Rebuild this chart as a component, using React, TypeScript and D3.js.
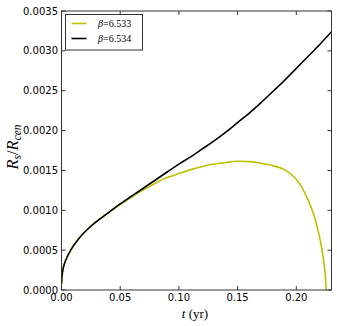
import React from "react";
import * as d3 from "d3";

const tBlack = [0, 0.001, 0.0025, 0.005, 0.0075, 0.01, 0.015, 0.02, 0.025, 0.03, 0.04, 0.05, 0.06, 0.07, 0.08, 0.09, 0.10, 0.11, 0.12, 0.13, 0.14, 0.15, 0.16, 0.17, 0.18, 0.19, 0.20, 0.21, 0.22, 0.23];
const vBlack = [0.00008, 0.00024, 0.00033, 0.00042, 0.00049, 0.00055, 0.00065, 0.00073, 0.0008, 0.00086, 0.00097, 0.00108, 0.00118, 0.00128, 0.00138, 0.00148, 0.00158, 0.00167, 0.00177, 0.00187, 0.00198, 0.0021, 0.00222, 0.00235, 0.00249, 0.00263, 0.00278, 0.00293, 0.00308, 0.00324];

const tYellow = [0, 0.001, 0.0025, 0.005, 0.0075, 0.01, 0.015, 0.02, 0.025, 0.03, 0.04, 0.05, 0.06, 0.07, 0.08, 0.09, 0.10, 0.11, 0.12, 0.13, 0.14, 0.15, 0.16, 0.17, 0.18, 0.19, 0.20, 0.205, 0.21, 0.215, 0.218, 0.221, 0.223, 0.2245, 0.2255];
const vYellow = [0.00008, 0.00024, 0.00033, 0.00042, 0.00049, 0.00055, 0.00065, 0.00073, 0.0008, 0.00086, 0.00097, 0.00107, 0.00117, 0.00126, 0.00134, 0.00141, 0.00146, 0.00151, 0.00155, 0.00158, 0.0016, 0.001615, 0.00161, 0.00159, 0.00156, 0.00151, 0.00139, 0.00128, 0.00113, 0.00094, 0.00078, 0.00058, 0.0004, 0.00022, 0];

const xTicks = [0, 0.05, 0.1, 0.15, 0.2];
const yTicks = [0, 0.0005, 0.001, 0.0015, 0.002, 0.0025, 0.003, 0.0035];
const legendLabels = ["6.533", "6.534"];
const colors = ["#bfbf00", "#000000"];

const W = 337, H = 326;
const L = 61.5, R = 331.5, T = 11, B = 290;

export default function App() {
  const x = d3.scaleLinear().domain([0, 0.23]).range([L, R]);
  const y = d3.scaleLinear().domain([0, 0.0035]).range([B, T]);
  const line = d3.line<[number, number]>().x(d => x(d[0])).y(d => y(d[1])).curve(d3.curveCatmullRom.alpha(0.5));
  const yellow = tYellow.map((t, i) => [t, vYellow[i]] as [number, number]);
  const black = tBlack.map((t, i) => [t, vBlack[i]] as [number, number]);
  const tickFont = "'DejaVu Sans', sans-serif";
  const serif = "'Liberation Serif', 'DejaVu Serif', serif";
  return (
    <svg width={W} height={H} style={{ position: "absolute", left: 0, top: 0, background: "#fff" }}>
      <defs>
        <clipPath id="plot"><rect x={L} y={T} width={R - L} height={B - T} /></clipPath>
      </defs>
      <rect x={0} y={0} width={W} height={H} fill="#fff" />
      <g clipPath="url(#plot)">
        <path d={line(yellow) || ""} fill="none" stroke={colors[0]} strokeWidth={1.6} />
        <path d={line(black) || ""} fill="none" stroke={colors[1]} strokeWidth={1.6} />
      </g>
      <rect x={L} y={T} width={R - L} height={B - T} fill="none" stroke="#333" strokeWidth={1} />
      {xTicks.map(t => (
        <g key={"x" + t}>
          <line x1={x(t)} x2={x(t)} y1={B} y2={B - 4} stroke="#333" />
          <line x1={x(t)} x2={x(t)} y1={T} y2={T + 4} stroke="#333" />
          <text x={x(t)} y={301} textAnchor="middle" fontFamily={tickFont} fontSize={10} fill="#000">{t.toFixed(2)}</text>
        </g>
      ))}
      {yTicks.map(v => (
        <g key={"y" + v}>
          <line x1={L} x2={L + 4} y1={y(v)} y2={y(v)} stroke="#333" />
          <line x1={R} x2={R - 4} y1={y(v)} y2={y(v)} stroke="#333" />
          <text x={58} y={y(v) + 3.6} textAnchor="end" fontFamily={tickFont} fontSize={10} fill="#000">{v.toFixed(4)}</text>
        </g>
      ))}
      <text x={195} y={318} textAnchor="middle" fontFamily={serif} fontSize={13} fill="#000">
        <tspan fontStyle="italic">t</tspan>
        <tspan> (yr)</tspan>
      </text>
      <text transform={`translate(18,147) rotate(-90)`} textAnchor="middle" fontFamily={serif} fontSize={16.5} fill="#000">
        <tspan fontStyle="italic">R</tspan>
        <tspan fontStyle="italic" fontSize={11.5} dy={3}>s</tspan>
        <tspan dy={-3}>/</tspan>
        <tspan fontStyle="italic">R</tspan>
        <tspan fontStyle="italic" fontSize={11.5} dy={3}>cen</tspan>
      </text>
      <g>
        <rect x={65.5} y={14.5} width={77} height={35.5} fill="#fff" stroke="#333" strokeWidth={1} />
        {legendLabels.map((lab, i) => (
          <g key={lab}>
            <line x1={71.5} x2={86.5} y1={23.5 + i * 15} y2={23.5 + i * 15} stroke={colors[i]} strokeWidth={1.6} />
            <text x={98} y={27 + i * 15} fontFamily={serif} fontSize={10} fill="#000">
              <tspan fontStyle="italic">β</tspan>
              <tspan>=</tspan>
              <tspan>{lab}</tspan>
            </text>
          </g>
        ))}
      </g>
    </svg>
  );
}
